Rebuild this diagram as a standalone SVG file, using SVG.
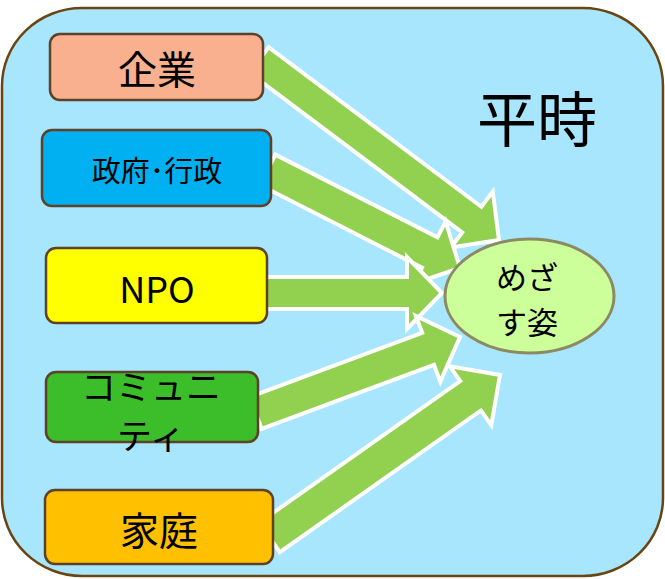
<svg xmlns="http://www.w3.org/2000/svg" width="665" height="579" viewBox="0 0 665 579">
<style>
.box{stroke:#5e4128;stroke-width:2.5}
.arr{fill:#92d050;stroke:#ffffff;stroke-width:4;stroke-linejoin:miter}
text{font-family:"Noto Sans CJK JP","Noto Sans",sans-serif;fill:#000;text-anchor:middle;dominant-baseline:central}
</style>
<rect x="2" y="8" width="661" height="568" rx="80" ry="78" fill="#a7e6fc" stroke="#6b4511" stroke-width="2.5"/>
<text x="537" y="115" font-size="60">平時</text>
<g id="connectors">
<polygon class="arr" points="-300,-16 -34,-16 -34,-35 0,0 -34,35 -34,16 -300,16" transform="translate(499,240) rotate(36.87)"/>
<polygon class="arr" points="-216,-17 -34,-17 -34,-35 0,0 -34,35 -34,17 -216,17" transform="translate(460,268) rotate(27.05)"/>
<polygon class="arr" points="-180,-16 -35,-16 -35,-36 0,0 -35,36 -35,16 -180,16" transform="translate(442,293)"/>
<polygon class="arr" points="-218,-17 -34,-17 -34,-35 0,0 -34,35 -34,17 -218,17" transform="translate(460,337) rotate(-20.37)"/>
<polygon class="arr" points="-282,-18 -36,-18 -36,-36 0,0 -36,36 -36,18 -282,18" transform="translate(500,375) rotate(-35.17)"/>
</g>
<g id="n1"><rect class="box" x="50" y="34" width="213" height="66" rx="10" fill="#f8b08f"/><text x="157" y="67" font-size="39">企業</text></g>
<g id="n2"><rect class="box" x="42" y="130" width="229" height="76" rx="10" fill="#00b0f0"/><text x="157" y="169" font-size="29">政府･行政</text></g>
<g id="n3"><rect class="box" x="46" y="248" width="221" height="75" rx="10" fill="#ffff00"/><text x="157" y="287" font-size="36">NPO</text></g>
<g id="n4"><rect class="box" x="46" y="372" width="212" height="70" rx="10" fill="#3cbe2a"/><text x="151" y="384" font-size="35">コミュニ</text><text x="151" y="433" font-size="35">ティ</text></g>
<g id="n5"><rect class="box" x="45" y="490" width="228" height="74" rx="10" fill="#ffc000"/><text x="159" y="528" font-size="39">家庭</text></g>
<g id="goal"><ellipse cx="529.5" cy="296" rx="84.5" ry="57" fill="#ccff99" stroke="#8c8a62" stroke-width="3"/><text x="527" y="275" font-size="31">めざ</text><text x="527" y="320" font-size="31">す姿</text></g>
</svg>
